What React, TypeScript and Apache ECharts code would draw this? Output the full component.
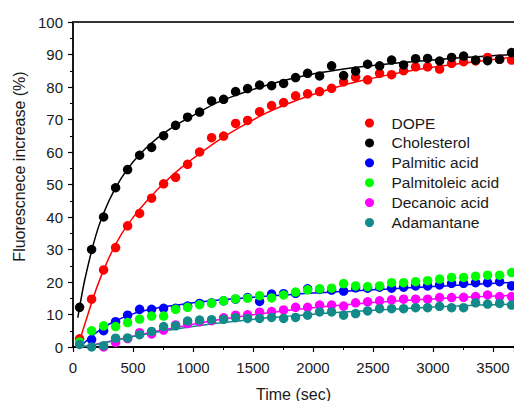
import React, { useEffect, useRef } from "react";
import * as echarts from "echarts";

// Sample times (sec)
const times = [55, 155, 255, 355, 455, 555, 655, 755, 855, 955, 1055, 1155, 1255, 1355, 1455, 1555, 1655, 1755, 1855, 1955, 2055, 2155, 2255, 2355, 2455, 2555, 2655, 2755, 2855, 2955, 3055, 3155, 3255, 3355, 3455, 3555, 3655];

const dope = [2.5, 14.7, 23.7, 30.6, 37.3, 41.1, 45.8, 50.2, 52.2, 56.2, 60.0, 64.4, 64.9, 68.8, 69.7, 72.4, 74.3, 75.2, 77.3, 77.9, 78.6, 79.6, 81.6, 83.0, 82.2, 84.2, 83.8, 85.0, 86.2, 86.2, 85.5, 87.3, 87.8, 88.0, 89.1, 88.5, 88.3];
const cholesterol = [12.2, 30.0, 40.0, 49.0, 54.6, 59.0, 61.4, 65.0, 68.2, 70.7, 72.3, 75.7, 76.2, 78.6, 79.5, 80.6, 80.4, 81.1, 82.9, 84.2, 83.4, 86.5, 83.5, 84.9, 87.0, 86.5, 88.3, 86.8, 88.7, 88.8, 88.0, 89.1, 89.5, 88.3, 88.1, 88.5, 90.6];
const palmitic = [null, 2.3, 5.0, 7.8, 9.8, 11.6, 11.6, 11.9, 11.9, 12.6, 13.4, 13.6, 14.2, 14.7, 15.2, 14.0, 16.3, 16.4, 16.5, 17.9, 17.7, 17.5, 17.2, 18.2, 18.1, 18.4, 18.1, 18.4, 18.8, 18.8, 19.1, 19.6, 19.6, 19.8, 19.8, 20.1, 18.8];
const palmitoleic = [1.5, 5.0, 6.5, 6.3, 7.5, 8.6, 9.5, 9.5, 11.6, 12.2, 13.0, 13.5, 14.2, 14.8, 15.0, 15.8, 15.1, 16.0, 16.9, 17.6, 17.9, 18.1, 19.5, 18.8, 18.6, 18.8, 19.8, 19.8, 20.1, 20.4, 20.9, 21.4, 21.4, 21.8, 22.1, 22.1, 22.9];
const decanoic = [null, null, 0.0, 1.4, 2.6, 4.4, 4.0, 5.2, 6.8, 7.2, 7.8, 8.1, 9.0, 9.8, 9.9, 10.7, 10.9, 11.4, 12.2, 12.2, 12.9, 12.9, 12.6, 13.6, 13.9, 14.2, 14.5, 14.7, 14.7, 14.7, 15.2, 15.2, 15.3, 15.5, 16.0, 15.5, 15.5];
const adamantane = [0.8, 0.0, 0.4, 2.7, 2.8, 3.8, 4.8, 6.3, 6.5, 8.0, 8.3, 8.4, 8.5, 9.0, 8.8, 8.8, 9.1, 8.8, 9.1, 9.8, 10.8, 10.8, 9.8, 10.3, 11.1, 11.8, 11.8, 11.8, 12.1, 12.1, 12.5, 12.1, 12.1, 13.6, 13.2, 13.4, 12.9];

// Fitted curves
const fitTimes = [40, 100, 200, 300, 400, 500, 600, 700, 800, 900, 1000, 1200, 1400, 1600, 1800, 2000, 2200, 2400, 2600, 2800, 3000, 3200, 3400, 3675];
const dopeFit = [0, 7.2, 18.5, 27.5, 34.5, 39.8, 44.3, 48.3, 51.9, 55.1, 58.0, 63.3, 67.8, 71.8, 75.0, 77.7, 80.0, 81.9, 83.5, 84.9, 86.1, 87.1, 88.0, 89.2];
const cholesterolFit = [9, 21, 35.5, 45.0, 51.8, 56.9, 60.9, 64.2, 66.9, 69.2, 71.2, 75.2, 78.0, 80.4, 82.4, 84.0, 85.2, 86.2, 87.0, 87.7, 88.3, 88.9, 89.4, 90.0];
const palmiticFit = [-0.6, 1.5, 4.6, 7.0, 8.8, 10.2, 11.2, 12.0, 12.6, 13.1, 13.6, 14.4, 15.0, 15.6, 16.1, 16.6, 17.0, 17.4, 17.8, 18.2, 18.6, 19.0, 19.4, 19.9];
const decanoicFit = [-0.2, 0.2, 0.9, 1.7, 2.5, 3.3, 4.1, 4.9, 5.6, 6.3, 7.0, 8.3, 9.4, 10.4, 11.3, 12.1, 12.8, 13.4, 13.9, 14.4, 14.8, 15.2, 15.5, 15.9];
const adamantaneFit = [-0.2, 0.2, 0.8, 1.6, 2.4, 3.2, 3.9, 4.6, 5.2, 5.8, 6.3, 7.3, 8.1, 8.9, 9.5, 10.1, 10.6, 11.1, 11.5, 11.9, 12.3, 12.6, 12.9, 13.2];

const names = ["DOPE", "Cholesterol", "Palmitic acid", "Palmitoleic acid", "Decanoic acid", "Adamantane"];
const colors = ["#ff0000", "#000000", "#0000ff", "#00ff00", "#ff00ff", "#138a8a"];

const pair = (xs: number[], ys: (number | null)[]) =>
  xs.map((x, i) => [x, ys[i]]).filter((p) => p[1] !== null);

export default function App() {
  const ref = useRef<HTMLDivElement>(null);
  useEffect(() => {
    if (!ref.current) return;
    const chart = echarts.init(ref.current, null, { renderer: "svg" });
    const scatterData = [dope, cholesterol, palmitic, palmitoleic, decanoic, adamantane];
    const fits: [number, number[]][] = [
      [0, dopeFit],
      [1, cholesterolFit],
      [2, palmiticFit],
      [4, decanoicFit],
      [5, adamantaneFit],
    ];
    const font = "'Liberation Sans', Arial, sans-serif";
    const series: any[] = [];
    fits.forEach(([idx, ys]) => {
      series.push({
        type: "line",
        name: names[idx] + " fit",
        data: pair(fitTimes, ys),
        smooth: 0.3,
        showSymbol: false,
        clip: true,
        lineStyle: { color: colors[idx], width: 1.5 },
        itemStyle: { color: colors[idx] },
        z: 2,
      });
    });
    scatterData.forEach((ys, idx) => {
      series.push({
        type: "scatter",
        name: names[idx],
        data: pair(times, ys),
        symbol: "circle",
        symbolSize: 9.5,
        itemStyle: { color: colors[idx], opacity: 1 },
        z: 3,
      });
    });
    chart.setOption({
      animation: false,
      textStyle: { fontFamily: font },
      grid: { left: 73, right: 0, top: 22, bottom: 54, outerBoundsMode: "none", containLabel: false },
      legend: {
        data: names,
        orient: "vertical",
        left: 360,
        top: 110,
        icon: "circle",
        itemWidth: 34,
        itemHeight: 9,
        itemGap: 3.9,
        textStyle: { fontSize: 15.5, color: "#1a1a1a", fontFamily: font, lineHeight: 14 },
      },
      xAxis: [
        {
          type: "value",
          min: 0,
          max: 3675,
          interval: 500,
          name: "Time (sec)",
          nameLocation: "middle",
          nameGap: 39,
          nameTextStyle: { fontSize: 16, color: "#1a1a1a", fontFamily: font },
          axisLine: { lineStyle: { color: "#000", width: 1.8 } },
          axisTick: { inside: false, length: 5, lineStyle: { color: "#000", width: 1.2 } },
          minorTick: { show: true, splitNumber: 2, length: 3, lineStyle: { color: "#000", width: 1 } },
          axisLabel: {
            margin: 13,
            fontSize: 15,
            color: "#1a1a1a",
            fontFamily: font,
            showMaxLabel: false,
            formatter: (v: number) => (v % 500 === 0 ? String(v) : ""),
          },
          splitLine: { show: false },
        },
        {
          type: "value",
          position: "top",
          min: 0,
          max: 3675,
          axisLine: { show: true, lineStyle: { color: "#333", width: 1.8 } },
          axisTick: { show: false },
          axisLabel: { show: false },
          splitLine: { show: false },
        },
      ],
      yAxis: {
        type: "value",
        min: 0,
        max: 100,
        interval: 10,
        name: "Fluorescnece increase (%)",
        nameLocation: "middle",
        nameGap: 46,
        nameTextStyle: { fontSize: 16, color: "#1a1a1a", fontFamily: font, padding: [0, 0, 0, 36] },
        axisLine: { show: true, lineStyle: { color: "#000", width: 1.8 } },
        axisTick: { inside: false, length: 5, lineStyle: { color: "#000", width: 1.2 } },
        minorTick: { show: true, splitNumber: 2, length: 3, lineStyle: { color: "#000", width: 1 } },
        axisLabel: { margin: 10, fontSize: 15, color: "#1a1a1a", fontFamily: font },
        splitLine: { show: false },
      },
      series,
    });
    return () => chart.dispose();
  }, []);
  return (
    <div
      ref={ref}
      style={{ position: "fixed", left: 0, top: 0, width: 514, height: 401, background: "#fff" }}
    />
  );
}
